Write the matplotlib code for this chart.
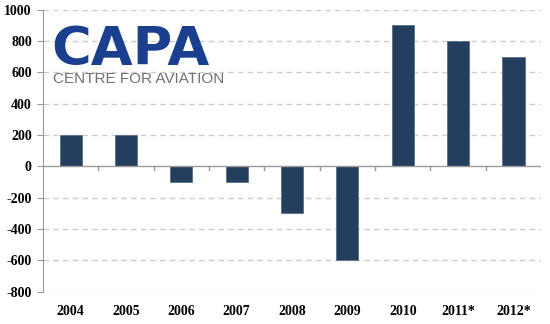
import numpy as np
import matplotlib.pyplot as plt

# years and values
years = ['2004', '2005', '2006', '2007', '2008', '2009', '2010', '2011*', '2012*']
values = [200, 200, -100, -100, -300, -600, 900, 800, 700]
yticks = list(range(-800, 1001, 200))

fig = plt.figure(figsize=(5.5, 3.24), dpi=100)
ax = fig.add_axes([0.078, 0.1, 0.906, 0.87])

x = np.arange(len(years))
ax.bar(x, values, width=0.4, color='#243f5e', edgecolor='#5a6f88', linewidth=0.6, zorder=3)

ax.set_xlim(-0.5, len(years) - 0.5)
ax.set_ylim(-800, 1000)
ax.set_yticks(yticks)
ax.set_yticklabels([str(v) for v in yticks], fontfamily='Liberation Serif',
                   fontweight='bold', fontsize=10)
ax.set_xticks(x)
ax.set_xticklabels(years, fontfamily='Liberation Serif', fontweight='bold', fontsize=10)

# dashed grid lines, not at zero
for v in yticks:
    if v != 0:
        ax.axhline(v, color='#cccccc', linestyle=(0, (4, 3)), linewidth=1, zorder=1)

# zero line with ticks between categories
ax.axhline(0, color='#999999', linewidth=1, zorder=4)
for b in np.arange(0.5, len(years) - 0.5, 1):
    ax.plot([b, b], [0, -25], color='#999999', linewidth=1, zorder=4)

for s in ['top', 'right', 'bottom']:
    ax.spines[s].set_visible(False)
ax.spines['left'].set_color('#999999')
ax.tick_params(axis='y', length=4, color='#999999', pad=4)
ax.tick_params(axis='x', length=0, pad=10)

# logo
fig.text(0.094, 1 - 65 / 324, 'CAPA', fontsize=39, fontweight='heavy', color='#1b3f8f',
         fontfamily='DejaVu Sans', va='baseline')
fig.text(0.097, 1 - 83 / 324, 'CENTRE FOR AVIATION', fontsize=11, color='#707070',
         fontfamily='Liberation Sans', va='baseline')

fig.savefig('out.png')
